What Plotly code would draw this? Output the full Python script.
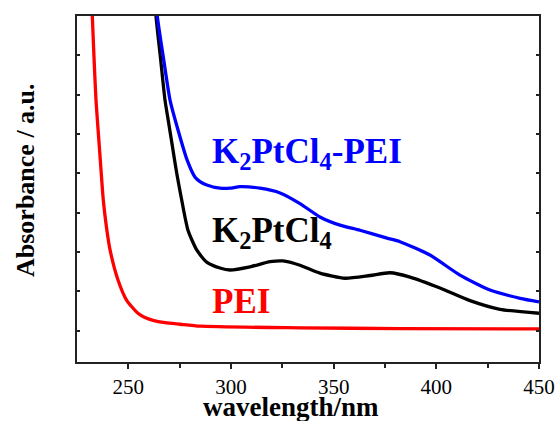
import plotly.graph_objects as go

# PEI (red)
pei_wl = [231.5, 232.45, 233.3, 234.25, 236.0, 237.8, 239.4, 241.1, 245.0, 249.2, 254.7, 258.1, 262.0, 267.9,
          275.2, 285.0, 333.6, 382.3, 450.0]
pei_abs = [10.1, 9.0, 7.93, 6.86, 5.59, 4.32, 3.61, 3.05, 2.28, 1.77, 1.44, 1.33, 1.26, 1.20,
           1.16, 1.11, 1.07, 1.05, 1.04]

# K2PtCl4 (black)
k_wl = [262.3, 263.47, 265.67, 267.86, 269.8, 271.75, 273.7, 275.99, 279.06, 283.3, 288.17, 294.65, 299.5,
        309.25, 319.0, 325.3, 333.6, 343.3, 355.5, 367.7, 377.4, 387.2, 401.8, 416.4, 431.0, 450.0]
k_abs = [10.0, 9.0, 7.93, 6.86, 6.23, 5.59, 4.96, 4.32, 3.55, 3.05, 2.74, 2.59, 2.54,
         2.62, 2.75, 2.77, 2.66, 2.46, 2.33, 2.40, 2.47, 2.36, 2.08, 1.76, 1.54, 1.44]

# K2PtCl4-PEI (blue)
kp_wl = [262.8, 264.1, 267.1, 270.3, 274.2, 278.6, 282.5, 284.9, 288.2, 294.65, 299.5, 304.4, 314.1, 323.9,
         333.6, 343.3, 353.1, 362.8, 376.0, 382.3, 396.9, 411.5, 426.1, 440.8, 450.0]
kp_abs = [10.0, 9.0, 7.93, 6.86, 6.10, 5.34, 4.90, 4.79, 4.70, 4.62, 4.62, 4.66, 4.62, 4.50,
          4.23, 3.89, 3.68, 3.55, 3.35, 3.26, 2.92, 2.41, 2.03, 1.82, 1.73]

x_ticks = [250, 300, 350, 400, 450]

FONT = "Times New Roman, Liberation Serif, serif"

fig = go.Figure()
line_shape = dict(width=3.3, shape="spline", smoothing=0.6)
fig.add_trace(go.Scatter(x=pei_wl, y=pei_abs, mode="lines", line=dict(color="#ff0000", **line_shape)))
fig.add_trace(go.Scatter(x=k_wl, y=k_abs, mode="lines", line=dict(color="#000000", **line_shape)))
fig.add_trace(go.Scatter(x=kp_wl, y=kp_abs, mode="lines", line=dict(color="#0000ff", **line_shape)))

fig.update_layout(
    width=558, height=421,
    margin=dict(l=77, r=19, t=16, b=59, autoexpand=False),
    paper_bgcolor="white", plot_bgcolor="white",
    showlegend=False,
    font=dict(family=FONT, color="black"),
)
fig.update_xaxes(
    range=[225, 450], tickvals=x_ticks, ticktext=[str(v) for v in x_ticks],
    ticks="outside", ticklen=5, tickwidth=1.5, tickcolor="#222",
    minor=dict(tickvals=[275, 325, 375, 425], ticks="outside", ticklen=4, tickwidth=1.5, tickcolor="#222"),
    showline=True, linecolor="#222", linewidth=2, mirror=True,
    showgrid=False, zeroline=False, automargin=False,
    tickfont=dict(family=FONT, size=21, color="black"),
)
fig.update_yaxes(
    range=[0.2, 9], tick0=0, dtick=1,
    ticks="inside", ticklen=3, tickwidth=1.5, tickcolor="#222",
    showticklabels=False,
    showline=True, linecolor="#222", linewidth=2, mirror="ticks",
    showgrid=False, zeroline=False, automargin=False,
)

fig.add_annotation(text="<b>wavelength/nm</b>", xref="paper", yref="paper", x=0.464, y=0,
                   xanchor="center", yanchor="middle", yshift=-45, showarrow=False,
                   font=dict(family=FONT, size=27, color="black"))
fig.add_annotation(text="<b>Absorbance / a.u.</b>", xref="paper", yref="paper", x=0, y=0.526,
                   xanchor="center", yanchor="middle", xshift=-52, textangle=-90, showarrow=False,
                   font=dict(family=FONT, size=26, color="black"))

fig.add_annotation(text="<b>K<sub>2</sub>PtCl<sub>4</sub>-PEI</b>", x=289.8, y=5.51, xanchor="left", yanchor="middle",
                   showarrow=False, font=dict(family=FONT, size=35, color="#0000ff"))
fig.add_annotation(text="<b>K<sub>2</sub>PtCl<sub>4</sub></b>", x=289.8, y=3.50, xanchor="left", yanchor="middle",
                   showarrow=False, font=dict(family=FONT, size=35, color="#000000"))
fig.add_annotation(text="<b>PEI</b>", x=289.8, y=1.75, xanchor="left", yanchor="middle",
                   showarrow=False, font=dict(family=FONT, size=35, color="#ff0000"))

fig.write_html(
    "out.html",
    config={"displayModeBar": False, "responsive": False},
    post_script=("document.documentElement.style.margin='0px';document.body.style.margin='0px';"
                 "document.documentElement.style.overflow='hidden';document.body.style.overflow='hidden';"),
)
